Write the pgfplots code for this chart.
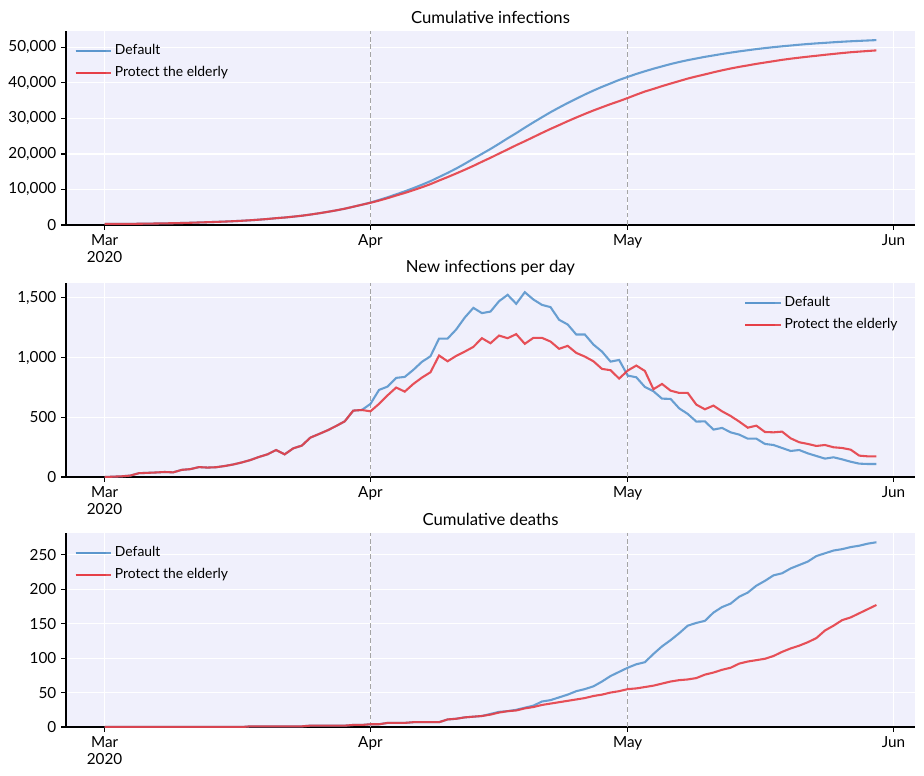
\documentclass[border=0pt]{standalone}
\usepackage{fontspec}
\setmainfont{Lato}
\usepackage{pgfplots}
\pgfplotsset{compat=1.18}
\usepackage{pgfplotstable}
\definecolor{cblue}{RGB}{90,150,205}
\definecolor{cred}{RGB}{230,62,70}
\definecolor{bg}{RGB}{240,240,252}
\definecolor{dgray}{RGB}{165,165,165}

\pgfplotstableread{
day infB infR newB newR dB dR
0 300 300 0 0 0 0
1 303 303 3 3 0 0
2 309 309 6 6 0 0
3 321 321 12 12 0 0
4 353 353 32 32 0 0
5 388 388 35 35 0 0
6 426 426 38 38 0 0
7 468 468 42 42 0 0
8 507 507 39 39 0 0
9 567 567 60 60 0 0
10 633 633 66 66 0 0
11 716 716 83 83 0 0
12 795 795 79 79 0 0
13 877 877 82 82 0 0
14 969 969 92 92 0 0
15 1074 1074 105 105 0 0
16 1196 1196 122 122 0 0
17 1338 1338 142 142 1 1
18 1506 1506 168 168 1 1
19 1696 1696 190 190 1 1
20 1922 1922 226 226 1 1
21 2112 2112 190 190 1 1
22 2352 2352 240 240 1 1
23 2615 2615 263 263 1 1
24 2945 2945 330 330 2 2
25 3305 3305 360 360 2 2
26 3696 3696 391 391 2 2
27 4123 4123 427 427 2 2
28 4589 4589 466 466 2 2
29 5145 5145 556 556 3 3
30 5706 5706 561 561 3 3
31 6318 6256 612 550 4 4
32 7047 6868 729 612 4 4
33 7804 7552 757 684 6 6
34 8634 8301 830 749 6 6
35 9472 9016 838 715 6 6
36 10369 9795 897 779 7 7
37 11333 10627 964 832 7 7
38 12344 11504 1011 877 7 7
39 13503 12521 1159 1017 7 7
40 14662 13490 1159 969 11 11
41 15897 14504 1235 1014 12 12
42 17232 15554 1335 1050 14 14
43 18648 16643 1416 1089 15 15
44 20020 17805 1372 1162 16 16
45 21405 18925 1385 1120 19 18
46 22877 20109 1472 1184 22 21
47 24402 21271 1525 1162 23 23
48 25852 22467 1450 1196 25 24
49 27399 23582 1547 1115 28 27
50 28885 24747 1486 1165 31 29
51 30326 25912 1441 1165 37 32
52 31748 27046 1422 1134 39 34
53 33064 28119 1316 1073 43 36
54 34341 29217 1277 1098 47 38
55 35534 30256 1193 1039 52 40
56 36727 31264 1193 1008 55 42
57 37836 32233 1109 969 59 45
58 38886 33138 1050 905 66 47
59 39852 34032 966 894 74 50
60 40832 34856 980 824 80 52
61 41681 35747 849 891 86 55
62 42516 36680 835 933 91 56
63 43270 37568 754 888 94 58
64 43988 38303 718 735 106 60
65 44644 39082 656 779 117 63
66 45298 39805 654 723 126 66
67 45873 40509 575 704 136 68
68 46401 41213 528 704 147 69
69 46865 41819 464 606 151 71
70 47331 42386 466 567 154 76
71 47728 42984 397 598 166 79
72 48139 43534 411 550 174 83
73 48513 44045 374 511 179 86
74 48868 44509 355 464 189 92
75 49189 44922 321 413 195 95
76 49510 45352 321 430 205 97
77 49787 45729 277 377 212 99
78 50055 46103 268 374 220 103
79 50298 46483 243 380 223 109
80 50516 46807 218 324 230 114
81 50742 47098 226 291 235 118
82 50940 47375 198 277 240 123
83 51116 47635 176 260 248 129
84 51270 47903 154 268 252 140
85 51435 48152 165 249 256 147
86 51583 48395 148 243 258 155
87 51711 48624 128 229 261 159
88 51823 48803 112 179 263 165
89 51932 48976 109 173 266 171
90 52041 49149 109 173 268 177
}\data

\tikzset{vline/.style={dgray, line width=0.8pt, dash pattern=on 3.5pt off 2pt}}

\pgfplotsset{
  panel/.style={
    width=611.28pt, height=139.68pt, scale only axis,
    xmin=-4.5, xmax=94.5, ymin=0,
    axis x line*=bottom, axis y line*=left,
    axis line style={black, line width=0.8pt, -},
    axis background/.style={fill=bg},
    xtick={0,31,61,92}, xticklabels={{Mar\\2020},Apr,May,Jun},
    x tick label style={align=center},
    ticklabel style={font=\fontsize{11}{12}\selectfont},
    /pgf/number format/assume math mode=true,
    /pgf/number format/1000 sep={,},
    scaled y ticks=false,
    tick align=outside, major tick length=3.5pt,
    tick style={black, line width=0.8pt},
    xmajorgrids, ymajorgrids,
    major grid style={white, line width=0.8pt},
    title style={font=\fontsize{12}{14}\selectfont, yshift=-4pt},
    legend cell align=left,
    legend style={draw=none, fill=none, font=\fontsize{10}{12}\selectfont, row sep=3pt},
    legend image code/.code={\draw[##1, line width=1.5pt] (0pt,0pt) -- (21.6pt,0pt); \path (0pt,0pt) -- (25.5pt,0pt);},
    every axis plot/.append style={line width=1.5pt, opacity=0.9},
  },
}

\begin{document}
\begin{tikzpicture}
\path[use as bounding box] (-47.52pt,0) rectangle (617.76pt,-558pt);

\begin{axis}[panel, at={(0,-22.32pt)}, anchor=north west,
  title={Cumulative infections}, ymax=54600,
  ytick={0,10000,20000,30000,40000,50000},
  legend style={at={(0.005,0.96)}, anchor=north west}]
  \draw[vline] (axis cs:31,0) -- (axis cs:31,54600);
  \draw[vline] (axis cs:61,0) -- (axis cs:61,54600);
  \addplot[cblue] table[x=day, y=infB] {\data};
  \addplot[cred] table[x=day, y=infR] {\data};
  \legend{Default, Protect the elderly}
\end{axis}

\begin{axis}[panel, at={(0,-203.76pt)}, anchor=north west,
  title={New infections per day}, ymax=1624,
  ytick={0,500,1000,1500},
  legend style={at={(0.988,0.96)}, anchor=north east}]
  \draw[vline] (axis cs:31,0) -- (axis cs:31,1624);
  \draw[vline] (axis cs:61,0) -- (axis cs:61,1624);
  \addplot[cblue] table[x=day, y=newB] {\data};
  \addplot[cred] table[x=day, y=newR] {\data};
  \legend{Default, Protect the elderly}
\end{axis}

\begin{axis}[panel, at={(0,-383.76pt)}, anchor=north west,
  title={Cumulative deaths}, ymax=281.4,
  ytick={0,50,100,150,200,250},
  legend style={at={(0.005,0.96)}, anchor=north west}]
  \draw[vline] (axis cs:31,0) -- (axis cs:31,281.4);
  \draw[vline] (axis cs:61,0) -- (axis cs:61,281.4);
  \addplot[cblue] table[x=day, y=dB] {\data};
  \addplot[cred] table[x=day, y=dR] {\data};
  \legend{Default, Protect the elderly}
\end{axis}
\end{tikzpicture}
\end{document}
